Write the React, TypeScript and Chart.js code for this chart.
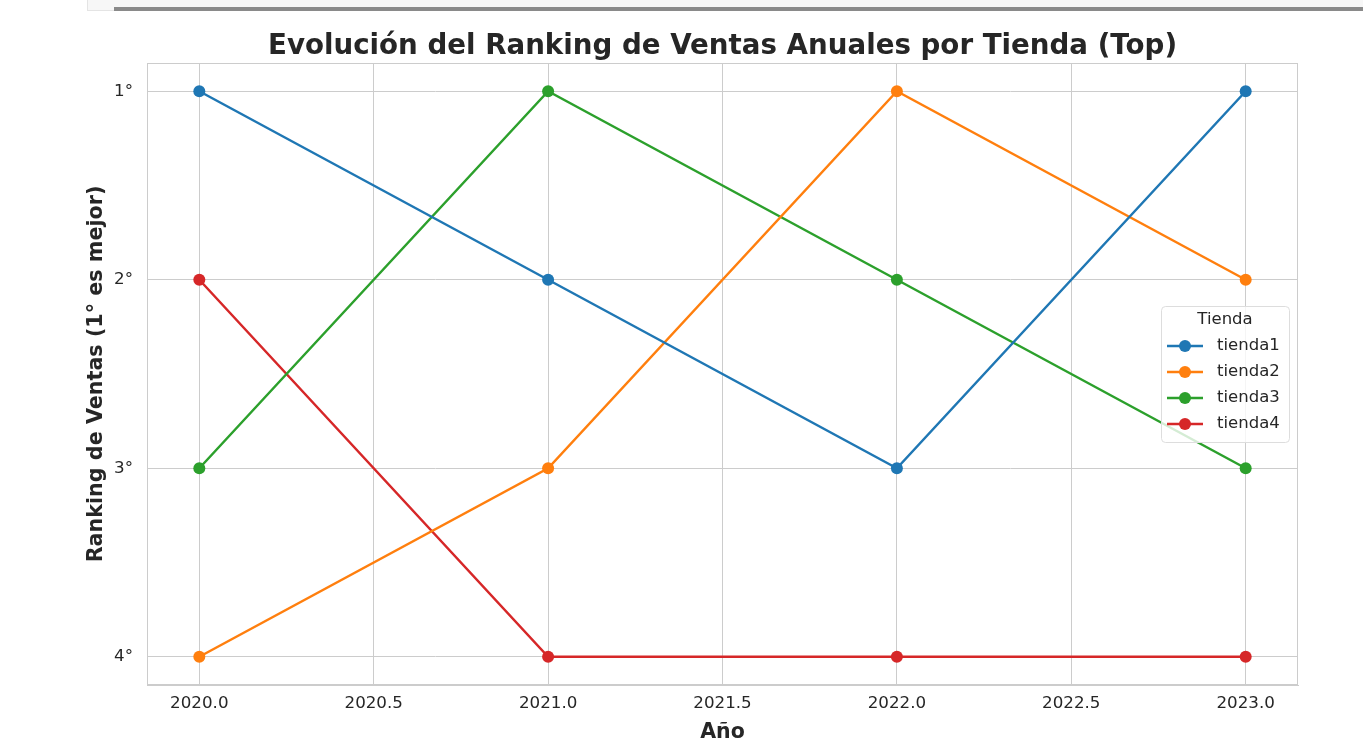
import React, { useEffect, useRef } from "react";
import { Chart, registerables } from "chart.js";

Chart.register(...registerables);

const years = [2020, 2021, 2022, 2023];
const tienda1 = [1, 2, 3, 1];
const tienda2 = [4, 3, 1, 2];
const tienda3 = [3, 1, 2, 3];
const tienda4 = [2, 4, 4, 4];
const seriesNames = ["tienda1", "tienda2", "tienda3", "tienda4"];
const seriesColors = ["#1f77b4", "#ff7f0e", "#2ca02c", "#d62728"];
const xTicks = [2020, 2020.5, 2021, 2021.5, 2022, 2022.5, 2023];
const yTicks = [1, 2, 3, 4];
const titleText = "Evolución del Ranking de Ventas Anuales por Tienda (Top)";
const xTitle = "Año";
const yTitle = "Ranking de Ventas (1° es mejor)";
const legendTitle = "Tienda";

const FONT = "'DejaVu Sans', sans-serif";
const TXT = "#262626";
const GRID = "#cccccc";

const frameAndLegend = {
  id: "frameAndLegend",
  afterDraw(chart: any) {
    const { ctx, chartArea } = chart;
    ctx.save();
    ctx.strokeStyle = GRID;
    ctx.lineWidth = 1;
    ctx.strokeRect(
      Math.round(chartArea.left) + 0.5,
      Math.round(chartArea.top) + 0.5,
      Math.round(chartArea.right - chartArea.left) - 1,
      Math.round(chartArea.bottom - chartArea.top) - 1
    );
    // title centred over the plot area
    ctx.fillStyle = TXT;
    ctx.font = `bold 27.7px ${FONT}`;
    ctx.textAlign = "center";
    ctx.textBaseline = "alphabetic";
    ctx.fillText(titleText, (chartArea.left + chartArea.right) / 2, 53.5);
    // legend
    const bx = 1161, by = 306, bw = 128, bh = 136;
    ctx.fillStyle = "rgba(255,255,255,0.8)";
    ctx.strokeStyle = "#dddddd";
    ctx.beginPath();
    (ctx as any).roundRect(bx + 0.5, by + 0.5, bw, bh, 4);
    ctx.fill();
    ctx.stroke();
    ctx.fillStyle = TXT;
    ctx.font = `16.5px ${FONT}`;
    ctx.textAlign = "center";
    ctx.textBaseline = "middle";
    ctx.fillText(legendTitle, 1225, 320);
    ctx.textAlign = "left";
    seriesNames.forEach((name, i) => {
      const y = 346 + i * 26;
      ctx.strokeStyle = seriesColors[i];
      ctx.lineWidth = 2.5;
      ctx.beginPath();
      ctx.moveTo(1167, y);
      ctx.lineTo(1203, y);
      ctx.stroke();
      ctx.fillStyle = seriesColors[i];
      ctx.beginPath();
      ctx.arc(1185, y, 6, 0, Math.PI * 2);
      ctx.fill();
      ctx.fillStyle = TXT;
      ctx.fillText(name, 1217, y);
    });
    ctx.restore();
  },
};

export default function App() {
  const ref = useRef<HTMLCanvasElement>(null);
  useEffect(() => {
    const all = [tienda1, tienda2, tienda3, tienda4];
    const chart = new Chart(ref.current!, {
      type: "line",
      data: {
        datasets: all.map((vals, i) => ({
          label: seriesNames[i],
          data: vals.map((v, j) => ({ x: years[j], y: v })),
          borderColor: seriesColors[i],
          backgroundColor: seriesColors[i],
          borderWidth: 2.5,
          pointRadius: 6,
          pointBorderWidth: 0,
          tension: 0,
        })),
      },
      options: {
        responsive: false,
        animation: false,
        layout: { padding: { left: 0, right: 65, top: 63, bottom: 0 } },
        plugins: {
          legend: { display: false },
          tooltip: { enabled: false },
          title: { display: false },
        },
        scales: {
          x: {
            type: "linear",
            min: 2019.85,
            max: 2023.15,
            afterBuildTicks: (s: any) => {
              s.ticks = xTicks.map((v) => ({ value: v }));
            },
            afterFit: (s: any) => {
              s.height = 746 - 685;
            },
            grid: { color: GRID, drawTicks: false },
            border: { color: GRID },
            ticks: {
              color: TXT,
              padding: 9,
              font: { family: FONT, size: 16.7 },
              callback: (v: any) => Number(v).toFixed(1),
            },
            title: {
              display: true,
              text: xTitle,
              color: TXT,
              font: { family: FONT, size: 20.5, weight: "bold" },
              padding: { top: 0, bottom: 0.8 },
            },
          },
          y: {
            type: "linear",
            reverse: true,
            min: 0.85,
            max: 4.15,
            afterBuildTicks: (s: any) => {
              s.ticks = yTicks.map((v) => ({ value: v }));
            },
            afterFit: (s: any) => {
              s.width = 147;
            },
            grid: { color: GRID, drawTicks: false },
            border: { color: GRID },
            ticks: {
              color: TXT,
              padding: 14,
              font: { family: FONT, size: 16.7 },
              callback: (v: any) => `${v}°`,
            },
            title: {
              display: true,
              text: yTitle,
              color: TXT,
              font: { family: FONT, size: 20.7, weight: "bold" },
              padding: { top: 84.5, bottom: 0 },
            },
          },
        },
      },
      plugins: [frameAndLegend],
    });
    return () => chart.destroy();
  }, []);

  return (
    <div style={{ position: "fixed", left: 0, top: 0, width: 1363, height: 746, background: "#fff" }}>
      <canvas ref={ref} width={1363} height={746} style={{ width: 1363, height: 746, display: "block" }} />
      <div
        style={{
          position: "absolute",
          left: 87,
          top: 0,
          width: 1276,
          height: 11,
          background: "#f7f7f7",
          borderLeft: "1px solid #e4e4e4",
          borderBottom: "1px solid #e4e4e4",
          boxSizing: "border-box",
        }}
      />
      <div style={{ position: "absolute", left: 114, top: 7, width: 1249, height: 4, background: "#8a8a8a" }} />
    </div>
  );
}
